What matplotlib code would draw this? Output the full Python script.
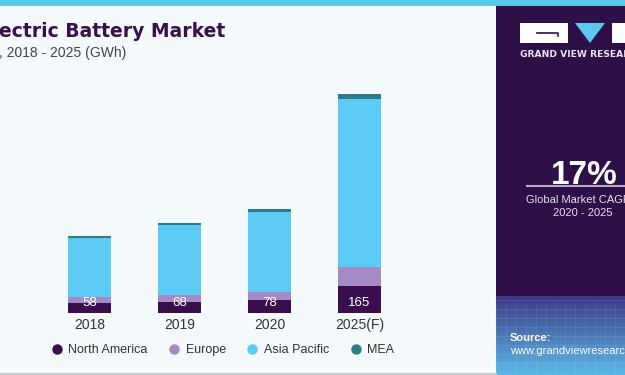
import numpy as np
import matplotlib
matplotlib.use("Agg")
import matplotlib.pyplot as plt
from matplotlib.patches import Rectangle, Polygon
from matplotlib.lines import Line2D

# ---- data ----
years = ["2018", "2019", "2020", "2025(F)"]
north_america = [7.5, 8.3, 9.6, 20.2]
europe = [4.3, 5.3, 5.8, 14.3]
asia_pacific = [44.9, 52.9, 60.8, 126.7]
mea = [1.3, 1.5, 1.8, 3.8]
total_labels = ["58", "68", "78", "165"]
series_names = ["North America", "Europe", "Asia Pacific", "MEA"]

colors = ["#3A0D4C", "#A48BC6", "#5BCBF5", "#2F7A8A"]
BG = "#F4F9FB"
W, H = 625, 375

fig = plt.figure(figsize=(6.25, 3.75), dpi=100, facecolor=BG)

def fx(px):
    return px / W

def fy(py):
    return 1 - py / H

# top stripe
fig.patches.append(Rectangle((0, fy(6)), 1, 6 / H, transform=fig.transFigure,
                             facecolor="#5BC8EE", edgecolor="none", zorder=5))
# bottom gray line
fig.add_artist(Line2D([0, fx(496)], [fy(373.5), fy(373.5)], transform=fig.transFigure,
                      color="#C8CCCE", lw=1.5))

# ---- main axes ----
ax = fig.add_axes([0, fy(312.7), fx(495), (312.7 - 6) / H])
ax.set_facecolor("none")
x = np.arange(len(years))
bw = 0.478
bottom = np.zeros(len(years))
for vals, c in zip([north_america, europe, asia_pacific, mea], colors):
    ax.bar(x, vals, bw, bottom=bottom, color=c, edgecolor="none")
    bottom += np.array(vals)
ax.set_xlim(-89.5 / 90, (495 - 89.5) / 90)
ax.set_ylim(0, (312.7 - 6) / 1.325)
ax.axis("off")
for xi, lab in zip(x, total_labels):
    ax.text(xi, 7.6, lab, ha="center", va="center", color="white",
            fontsize=9.5, family="Liberation Sans")
for xi, yr in zip(x, years):
    ax.text(xi, -9.0, yr, ha="center", va="center", color="#333333",
            fontsize=10, family="Liberation Sans", clip_on=False)

# ---- title ----
fig.text(fx(-1), fy(37), "ectric Battery Market", ha="left", va="baseline",
         fontsize=13.5, fontweight="bold", color="#3A0F4E", family="DejaVu Sans")
fig.text(fx(-1), fy(53), ", 2018 - 2025 (GWh)", ha="left", va="center",
         fontsize=10, color="#444444", family="Liberation Sans")

# ---- legend ----
handles = [Line2D([], [], marker="o", ls="", color=c, markersize=6.5) for c in colors]
leg = fig.legend(handles, series_names, loc="center", bbox_to_anchor=(fx(223), fy(350)),
                 ncol=4, frameon=False, handlelength=0.8, handletextpad=0.55,
                 columnspacing=1.7,
                 prop={"family": "Liberation Sans", "size": 9})
for t in leg.get_texts():
    t.set_color("#333333")

# ---- right panel ----
pax = fig.add_axes([fx(496), 0, 1 - fx(496), fy(6)])
pax.axis("off")
rows = 369
top_c = np.array([0x2E, 0x0F, 0x48]) / 255
mid_c = np.array([0x3C, 0x3A, 0x86]) / 255
bot_c = np.array([0x5B, 0xBA, 0xEA]) / 255
grad = np.zeros((rows, 1, 3))
for r in range(rows):
    py = r + 6
    if py < 296:
        grad[r, 0] = top_c
    else:
        t = (py - 296) / (375 - 296)
        grad[r, 0] = mid_c * (1 - t) + bot_c * t
pax.imshow(grad, aspect="auto", extent=(0, 1, 369, 0))
# faint grid texture
for k in range(8):
    yy = 300 + k * 9 - 6
    pax.plot([0, 1], [yy, yy], color="white", alpha=0.10, lw=0.6)
for k in range(14):
    xx = k / 13
    pax.plot([xx, xx], [296, 369], color="white", alpha=0.08, lw=0.6)
pax.set_xlim(0, 1)
pax.set_ylim(369, 0)

# logo
fig.patches.append(Rectangle((fx(520), fy(43)), fx(48), 20 / H, transform=fig.transFigure,
                             facecolor="white", edgecolor="none"))
fig.add_artist(Line2D([fx(537), fx(558), fx(558)], [fy(33), fy(33), fy(36)],
                      transform=fig.transFigure, color="#2E0F48", lw=1.2))
fig.patches.append(Polygon([(fx(575), fy(23)), (fx(605), fy(23)), (fx(590), fy(43))],
                           closed=True, transform=fig.transFigure,
                           facecolor="#5BC8EE", edgecolor="none"))
fig.patches.append(Rectangle((fx(612), fy(43)), fx(20), 20 / H, transform=fig.transFigure,
                             facecolor="white", edgecolor="none"))
fig.text(fx(520), fy(54.5), "GRAND VIEW RESEARCH", ha="left", va="center",
         fontsize=6.6, fontweight="bold", color="#E8E6EE", family="DejaVu Sans")

fig.text(fx(584), fy(175), "17%", ha="center", va="center", fontsize=24,
         fontweight="bold", color="white", family="Liberation Sans")
fig.add_artist(Line2D([fx(527), 1], [fy(186), fy(186)], transform=fig.transFigure,
                      color="#B8B0C8", lw=1.5))
fig.text(fx(526), fy(200), "Global Market CAGR", ha="left", va="center",
         fontsize=8, color="#E6E2EE", family="Liberation Sans")
fig.text(fx(583), fy(213.5), "2020 - 2025", ha="center", va="center",
         fontsize=8, color="#E6E2EE", family="Liberation Sans")
fig.text(fx(510), fy(338), "Source:", ha="left", va="center",
         fontsize=8, fontweight="bold", color="white", family="Liberation Sans")
fig.text(fx(510), fy(351), "www.grandviewresearch.com", ha="left", va="center",
         fontsize=8, color="white", family="Liberation Sans")

fig.savefig("out.png", dpi=100, facecolor=BG)
